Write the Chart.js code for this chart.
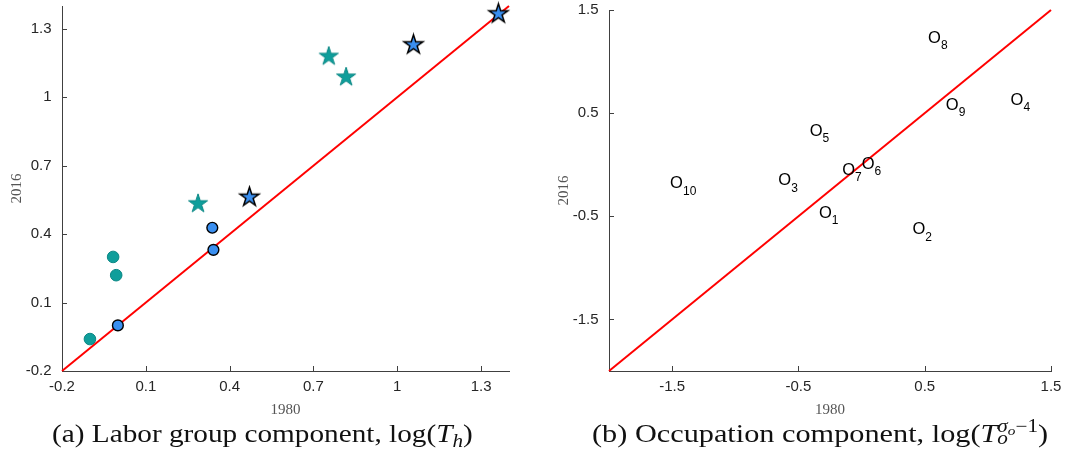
<!DOCTYPE html>
<html>
<head>
<meta charset="utf-8">
<script src="https://cdn.jsdelivr.net/npm/chart.js@4"></script>
<style>
  body { margin: 0; background: #fff; width: 1081px; height: 460px; position: relative; overflow: hidden; }
  canvas { position: absolute; top: 0; }
  #left { left: 0; }
  #right { left: 540px; }
  .caption { position: absolute; top: 420px; font-family: "Liberation Serif", serif; font-size: 25.5px; line-height: 28px; color: #111; white-space: nowrap; transform-origin: 0 0; }
  .ss { display: inline-block; position: relative; line-height: 1; }
  .ss .up { font-size: 0.7em; position: relative; top: -0.58em; }
  .ss .up sub { font-size: 0.72em; vertical-align: -0.25em; }
  .ss .dn { font-size: 0.7em; position: absolute; left: 0; top: 0.5em; }
  sub.h { font-size: 0.72em; vertical-align: -0.25em; }
</style>
</head>
<body>
<canvas id="left" width="530" height="422"></canvas>
<canvas id="right" width="541" height="422"></canvas>
<div class="caption" id="capA">(a) Labor group component, log(<i>T</i><sub class="h"><i>h</i></sub>)</div>
<div class="caption" id="capB">(b) Occupation component, log(<i>T</i><span class="ss"><span class="up"><i>σ</i><sub><i>o</i></sub>−1</span><span class="dn"><i>o</i></span></span>)</div>
<script>
// Panel (a): labor group component, [1980, 2016]
const tealCircles = [[-0.10, -0.06], [-0.017, 0.30], [-0.006, 0.22]];
const blueCircles = [[0.00, 0.00], [0.338, 0.428], [0.342, 0.331]];
const tealStars = [[0.287, 0.533], [0.755, 1.179], [0.817, 1.088]];
const blueStars = [[0.471, 0.562], [1.058, 1.230], [1.362, 1.366]];
const ticksA = [-0.2, 0.1, 0.4, 0.7, 1, 1.3];
const rangeA = [-0.2, 1.4];

// Panel (b): occupation component
const occNames = ['1', '2', '3', '4', '5', '6', '7', '8', '9', '10'];
const occ1980 = [-0.337, 0.403, -0.659, 1.18, -0.411, 0.001, -0.153, 0.527, 0.667, -1.516];
const occ2016 = [-0.455, -0.614, -0.143, 0.638, 0.341, 0.019, -0.039, 1.239, 0.590, -0.172];
const ticksB = [-1.5, -0.5, 0.5, 1.5];
const rangeB = [-2, 1.5];

const teal = '#0f9e9b';
const tealEdge = '#0b8784';
const blue = '#3a8ff0';

const toPts = arr => arr.map(p => ({ x: p[0], y: p[1] }));

// filled 5-point star used as a point style
function starImage(fill, stroke, r, lw) {
  const size = Math.ceil(2 * r + 2 * lw + 2);
  const c = document.createElement('canvas');
  c.width = c.height = size;
  const g = c.getContext('2d');
  g.translate(size / 2, size / 2);
  g.beginPath();
  for (let i = 0; i < 10; i++) {
    const a = -Math.PI / 2 + i * Math.PI / 5;
    const rr = i % 2 ? r * 0.382 : r;
    g.lineTo(rr * Math.cos(a), rr * Math.sin(a));
  }
  g.closePath();
  g.fillStyle = fill;
  g.fill();
  g.lineWidth = lw;
  g.strokeStyle = stroke;
  g.stroke();
  return c;
}

// MATLAB style ticks pointing into the plot
const inwardTicks = {
  id: 'inwardTicks',
  beforeDatasetsDraw(chart) {
    const { ctx, chartArea } = chart;
    const xs = chart.scales.x, ys = chart.scales.y;
    ctx.save();
    ctx.strokeStyle = '#404040';
    ctx.lineWidth = 1;
    ctx.beginPath();
    xs.ticks.forEach(t => {
      const px = Math.round(xs.getPixelForValue(t.value)) + 0.5;
      ctx.moveTo(px, chartArea.bottom);
      ctx.lineTo(px, chartArea.bottom - 5);
    });
    ys.ticks.forEach(t => {
      const py = Math.round(ys.getPixelForValue(t.value)) + 0.5;
      ctx.moveTo(chartArea.left, py);
      ctx.lineTo(chartArea.left + 5, py);
    });
    ctx.stroke();
    ctx.restore();
  }
};

// O_i text labels at the occupation points
const occLabelsPlugin = {
  id: 'occLabels',
  afterDatasetsDraw(chart) {
    const meta = chart.getDatasetMeta(0);
    const ctx = chart.ctx;
    ctx.save();
    ctx.fillStyle = '#000';
    ctx.textBaseline = 'alphabetic';
    ctx.textAlign = 'left';
    meta.data.forEach((el, i) => {
      const x = el.x, y = el.y + 6;
      ctx.font = '16.5px "Liberation Sans", Arial, sans-serif';
      ctx.fillText('O', x, y);
      const w = ctx.measureText('O').width;
      ctx.font = '12px "Liberation Sans", Arial, sans-serif';
      ctx.fillText(occNames[i], x + w, y + 6.5);
    });
    ctx.restore();
  }
};

function makeScales(range, ticks, yWidth, yTitlePad) {
  const axis = {
    type: 'linear',
    min: range[0],
    max: range[1],
    afterBuildTicks: s => { s.ticks = ticks.map(v => ({ value: v })); },
    ticks: {
      font: { family: 'Liberation Sans', size: 15 },
      color: '#262626',
      callback: v => String(v)
    },
    grid: { display: true, drawOnChartArea: false, drawTicks: false },
    border: { display: true, color: '#404040', width: 1 }
  };
  return {
    x: Object.assign({}, axis, {
      ticks: Object.assign({}, axis.ticks, { padding: 7, maxRotation: 0 }),
      afterFit: s => { s.height = 51; s.paddingLeft = 0; s.paddingRight = 0; },
      title: { display: true, text: '1980', color: '#555', font: { family: 'Liberation Serif', size: 15 }, padding: { top: 0, bottom: 3 } }
    }),
    y: Object.assign({}, axis, {
      ticks: Object.assign({}, axis.ticks, { padding: 10.5 }),
      afterFit: s => { s.width = yWidth; s.paddingTop = 0; s.paddingBottom = 0; },
      title: { display: true, text: '2016', color: '#555', font: { family: 'Liberation Serif', size: 15 }, padding: { top: yTitlePad, bottom: 0 } }
    })
  };
}

const baseOptions = {
  responsive: false,
  animation: false,
  plugins: { legend: { display: false }, tooltip: { enabled: false } }
};

const starR = 10;
new Chart(document.getElementById('left'), {
  type: 'scatter',
  data: {
    datasets: [
      { data: toPts(tealCircles), pointRadius: 5.8, backgroundColor: teal, borderColor: tealEdge, borderWidth: 1 },
      { data: toPts(blueCircles), pointRadius: 5.4, backgroundColor: blue, borderColor: '#000', borderWidth: 1.4 },
      { data: toPts(tealStars), pointStyle: starImage(teal, tealEdge, starR, 1) },
      { data: toPts(blueStars), pointStyle: starImage(blue, '#000', starR, 1.5) },
      { type: 'line', data: [{ x: rangeA[0], y: rangeA[0] }, { x: rangeA[1], y: rangeA[1] }], borderColor: '#ff0000', borderWidth: 2, pointRadius: 0, showLine: true }
    ]
  },
  options: Object.assign({}, baseOptions, {
    layout: { autoPadding: false, padding: { top: 6, right: 21, left: 0, bottom: 0 } },
    clip: false,
    scales: makeScales(rangeA, ticksA, 62, 8)
  }),
  plugins: [inwardTicks]
});

new Chart(document.getElementById('right'), {
  type: 'scatter',
  data: {
    datasets: [
      { data: occ1980.map((v, i) => ({ x: v, y: occ2016[i] })), pointRadius: 0 },
      { type: 'line', data: [{ x: rangeB[0], y: rangeB[0] }, { x: rangeB[1], y: rangeB[1] }], borderColor: '#ff0000', borderWidth: 2, pointRadius: 0, showLine: true }
    ]
  },
  options: Object.assign({}, baseOptions, {
    layout: { autoPadding: false, padding: { top: 10, right: 30, left: 0, bottom: 0 } },
    clip: false,
    scales: makeScales(rangeB, ticksB, 69, 15)
  }),
  plugins: [inwardTicks, occLabelsPlugin]
});

// stretch the captions to the width of the typeset originals
function fitCaption(el, left, width) {
  el.style.left = left + 'px';
  el.style.transform = 'scaleX(' + (width / el.offsetWidth) + ')';
}
fitCaption(document.getElementById('capA'), 52, 421);
fitCaption(document.getElementById('capB'), 592, 456);
</script>
</body>
</html>
